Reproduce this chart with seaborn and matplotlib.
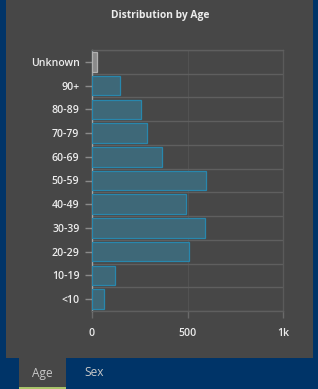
import matplotlib
matplotlib.use("Agg")
import matplotlib.pyplot as plt
import seaborn as sns
import pandas as pd
from matplotlib.patches import Rectangle
from matplotlib.ticker import FixedLocator

categories = ["Unknown", "90+", "80-89", "70-79", "60-69", "50-59",
              "40-49", "30-39", "20-29", "10-19", "<10"]
counts = [25, 148, 255, 286, 366, 595, 490, 590, 506, 119, 61]
xticks = [0, 500, 1000]
xticklabels = ["0", "500", "1k"]

BLUE_BG = "#003468"
PANEL = "#474747"
BAR_FILL = "#3e6878"
BAR_EDGE = "#2887ad"
UNK_FILL = "#8a8a8a"
UNK_EDGE = "#b0b0b0"
GRID = "#5f5f5f"
TXT = "#ececec"

sns.set_theme(style="dark")
plt.rcParams["font.family"] = ["Open Sans", "DejaVu Sans"]

W, H = 318, 389
fig = plt.figure(figsize=(W / 100, H / 100), dpi=100, facecolor=BLUE_BG)

# panel
fig.patches.append(Rectangle((6 / W, (H - 358) / H), (313 - 6) / W, 358 / H,
                             transform=fig.transFigure, facecolor=PANEL,
                             edgecolor="none", zorder=-10))
# tab
fig.patches.append(Rectangle((19 / W, (H - 388) / H), (66 - 19) / W, 30 / H,
                             transform=fig.transFigure, facecolor=PANEL,
                             edgecolor="none", zorder=-10))
fig.patches.append(Rectangle((19 / W, (H - 389) / H), (66 - 19) / W, 2.2 / H,
                             transform=fig.transFigure, facecolor="#a9c46a",
                             edgecolor="none", zorder=-9))
fig.text(42.5 / W, (H - 373) / H, "Age", color="#c8c8c8", fontsize=8.6,
         ha="center", va="center")
fig.text(94 / W, (H - 373) / H, "Sex", color="#c8c8c8", fontsize=8.6,
         ha="center", va="center")

fig.text(160 / W, (H - 15.5) / H, "Distribution by Age", color=TXT,
         fontsize=7.4, fontweight="bold", ha="center", va="center")

ax = fig.add_axes([92 / W, (H - 311) / H, (283 - 92) / W, (311 - 50) / H])
ax.set_zorder(5)
ax.set_facecolor(PANEL)

df = pd.DataFrame({"category": categories, "count": counts})
palette = {c: (UNK_FILL if c == "Unknown" else BAR_FILL) for c in categories}
sns.barplot(data=df, x="count", y="category", hue="category", palette=palette,
            order=categories, orient="h", width=0.82, saturation=1,
            legend=False, ax=ax, zorder=3)
for patch, c in zip(ax.patches, categories):
    patch.set_edgecolor(UNK_EDGE if c == "Unknown" else BAR_EDGE)
    patch.set_linewidth(0.9)

ax.set_xlim(0, 1000)
ax.set_ylim(len(categories) - 0.5, -0.5)
ax.set_xticks(xticks)
ax.set_xticklabels(xticklabels)
ax.yaxis.set_minor_locator(FixedLocator([i - 0.5 for i in range(len(categories) + 1)]))
ax.grid(False)
ax.grid(which="minor", axis="y", color=GRID, linewidth=1.0, zorder=1)
ax.grid(which="major", axis="x", color="#525252", linewidth=0.8, zorder=1)
ax.set_axisbelow(True)
ax.set_xlabel("")
ax.set_ylabel("")

for side in ["top", "right", "bottom"]:
    ax.spines[side].set_visible(True)
    ax.spines[side].set_color(GRID)
    ax.spines[side].set_linewidth(1.0)
ax.spines["left"].set_visible(True)
ax.spines["left"].set_color("#9aa8ac")
ax.spines["left"].set_linewidth(1.0)
ax.spines["right"].set_color("#5a5a5a")

ax.tick_params(axis="y", which="major", length=5, width=1, color="#8a8a8a",
               labelcolor=TXT, labelsize=7.6, pad=4, left=True)
ax.tick_params(axis="y", which="minor", length=0, left=False)
ax.tick_params(axis="x", which="major", length=5, width=1, color="#6a6a6a",
               labelcolor=TXT, labelsize=7.6, pad=7, bottom=True)
for lbl in ax.get_yticklabels() + ax.get_xticklabels():
    lbl.set_fontweight("semibold")

fig.savefig("out.png", dpi=100, facecolor=BLUE_BG)
